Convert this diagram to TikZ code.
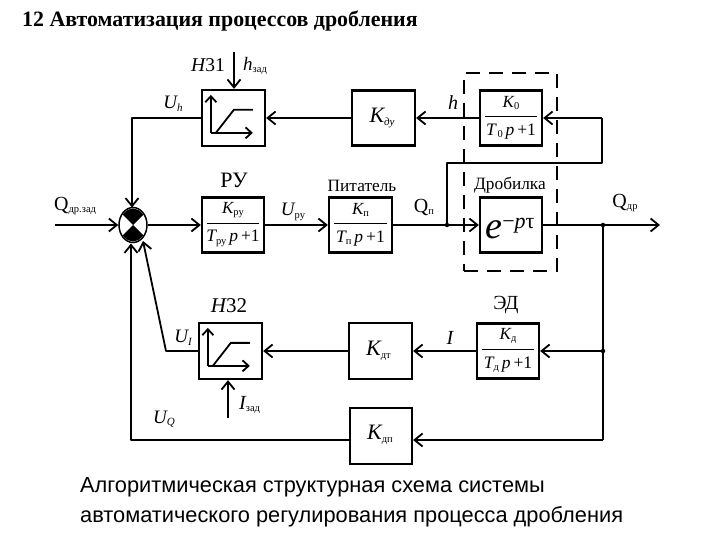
\documentclass[tikz,border=0pt]{standalone}
\usepackage{fontspec}
\setmainfont{Liberation Serif}
\newfontfamily\capfont{Liberation Sans}
\usetikzlibrary{arrows.meta,shapes.geometric}
\newcommand{\lo}[1]{\raisebox{-2.5pt}{\fontsize{10.5}{11}\selectfont #1}}
\newcommand{\ilo}[1]{\raisebox{-2.5pt}{\fontsize{11}{11}\selectfont\itshape #1}}
\newcommand{\I}[1]{{\itshape #1}}
\newcommand{\bQ}{{\fontsize{20}{20}\selectfont Q}}
\newcommand{\bU}{{\fontsize{19}{20}\selectfont\itshape U}}
\tikzset{
  x=1pt,y=-1pt,
  wire/.style={line width=1.8pt,line join=round},
  arr/.style={wire,-{Straight Barb[length=8pt,width=13pt,line width=1.8pt]}},
  block/.style={draw,line width=2.3pt,rectangle,inner sep=0pt},
  txt/.style={inner sep=0pt,font=\fontsize{17}{18}\selectfont},
  small/.style={inner sep=0pt,font=\fontsize{17.3}{18}\selectfont},
  fracn/.style={inner sep=0pt,font=\fontsize{17}{18}\selectfont},
  fracd/.style={inner sep=0pt,font=\fontsize{17.5}{18}\selectfont},
  big/.style={inner sep=0pt,font=\fontsize{22}{24}\selectfont},
  dot/.style={circle,fill,inner sep=0pt,minimum size=4.5pt},
  sat/.style={line width=1.8pt},
}
\newcommand{\blk}[5]{\node[block,minimum width=#4pt,minimum height=#5pt] (#1) at (#2,#3) {};}
\newcommand{\tfun}[3]{%
  \node[fracn] (#1n) at ([yshift=15pt]#1.center) {#2};
  \node[fracd] (#1d) at ([yshift=-13.5pt]#1.center) {#3};
  \draw[line width=.7pt] ([xshift=6pt,yshift=2pt]#1.west) -- ([xshift=-6pt,yshift=2pt]#1.east);}
\newcommand{\satur}[1]{%
  \draw[sat,-{Straight Barb[length=6pt,width=11pt,line width=1.8pt]}] ([xshift=10pt,yshift=-44pt]#1.north west) -- ++(0,38pt);
  \draw[sat,-{Straight Barb[length=6pt,width=11pt,line width=1.8pt]}] ([xshift=10pt,yshift=-44pt]#1.north west) -- ++(42pt,0);
  \draw[sat] ([xshift=15pt,yshift=-44pt]#1.north west) -- ++(18pt,23pt) -- ++(19pt,0);}
\begin{document}
\begin{tikzpicture}
\useasboundingbox (0,0) rectangle (720,540);
\fill[white] (0,0) rectangle (720,540);
% title
\node[anchor=west,inner sep=0pt,font=\fontsize{21.9}{24}\selectfont\bfseries] (title) at (22,21) {12 Автоматизация процессов дробления};
% blocks
\blk{nza}{233.5}{118}{63}{56}
\blk{ru}{233}{225}{62}{55}
\blk{pit}{360.5}{225}{63}{55}
\blk{kdu}{383.5}{118}{63}{55}
\blk{ko}{511}{118}{62}{55}
\blk{dro}{511}{225}{62}{55}
\blk{nzb}{230.5}{351}{63}{56}
\blk{kdt}{380.5}{351}{63}{56}
\blk{kdp}{381}{436}{62}{56}
\blk{ed}{508}{351}{62}{55}
% dashed frame
\node[draw,line width=2.4pt,dash pattern=on 14pt off 9pt,minimum width=93pt,minimum height=198pt,inner sep=0pt] (frame) at (510.5,172) {};
% summing junction
\node[draw,line width=1.5pt,ellipse,fill=white,minimum width=28pt,minimum height=35pt,inner sep=0pt] (sum) at (133,225) {};
\begin{scope}
\clip (133,225) ellipse [x radius=13pt,y radius=16.5pt];
\fill (133,225) -- (113,205) -- (153,205) -- cycle;
\fill (133,225) -- (113,245) -- (153,245) -- cycle;
\end{scope}
% coordinates
\coordinate (qin) at (55,225);
\coordinate (qout) at (660,225);
\node[dot] (jout) at (603,225) {};
\node[dot] (jed) at (603,351) {};
\node[dot] (jq) at (447,225) {};
\coordinate (fbr) at (602,118);
\coordinate (fbd) at (602,163);
\coordinate (fbl) at (447,163);
\coordinate (hz) at (234,52);
\coordinate (iz) at (228,418);
\coordinate (uh) at (132,118);
\coordinate (ui) at (166,351);
\coordinate (uq) at (131,440);
\coordinate (dp) at (603,440);
\coordinate (sumt) at (132,207.5);
\coordinate (sumb) at (131,243.5);
\coordinate (sumr) at (143,241);
% connectors
\draw[arr] (qin) -- (sum.west);
\draw[arr] (sum.east) -- (ru.west);
\draw[arr] (ru.east) -- (pit.west);
\draw[arr] (pit.east) -- (dro.west);
\draw[arr] (dro.east) -- (qout);
\draw[wire] (jq.center) -- (fbl) -- (fbd) -- (fbr);
\draw[arr] (fbr) -- (ko.east);
\draw[arr] (ko.west) -- (kdu.east);
\draw[arr] (kdu.west) -- (nza.east);
\draw[arr] (nza.west) -- (uh) -- (sumt);
\draw[arr] (hz) -- (nza.north -| hz);
\draw[wire] (jout.center) -- (dp);
\draw[arr] (jed.center) -- (ed.east);
\draw[arr] (ed.west) -- (kdt.east);
\draw[arr] (kdt.west) -- (nzb.east);
\draw[arr] (nzb.west) -- (ui) -- (sumr);
\draw[arr] (iz) -- (nzb.south -| iz);
\draw[arr] (dp) -- (kdp.east |- dp);
\draw[arr] (kdp.west |- uq) -- (uq) -- (sumb);
% saturation glyphs
\satur{nza}
\satur{nzb}
% block texts
\tfun{ru}{\I{K}\lo{ру}}{\I{T}\lo{ру}\,\I{p}\,+1}
\tfun{pit}{\I{K}\lo{п}}{\I{T}\lo{п}\,\I{p}\,+1}
\tfun{ko}{\I{K}\lo{0}}{\I{T}\lo{\,0}\,\I{p}\,+1}
\tfun{ed}{\I{K}\lo{д}}{\I{T}\lo{д}\,\I{p}\,+1}
\node[big] (kdul) at (382,118) {\I{K}\ilo{ду}};
\node[big] (kdtl) at (378.5,351) {\I{K}\lo{дт}};
\node[big] (kdpl) at (380,435) {\I{K}\lo{дп}};
\node[inner sep=0pt,font=\fontsize{38}{40}\selectfont] (exp) at (510,229) {\I{e}\raisebox{10pt}{\fontsize{22}{22}\selectfont −\I{p}τ}};
% labels
\node[txt,font=\fontsize{19.5}{22}\selectfont] (lnza) at (208,65) {\I{Н}31};
\node[txt,anchor=west,font=\fontsize{19}{20}\selectfont] (lhz) at (243,66) {\I{h}\lo{зад}};
\node[txt] (luh) at (173,104) {\bU\ilo{h}};
\node[big] (lru) at (234,180) {РУ};
\node[txt,anchor=west] (lqz) at (54,206) {\bQ\lo{др.зад}};
\node[txt] (lup) at (293,212) {\bU\lo{ру}};
\node[small] (lpit) at (362,186) {Питатель};
\node[txt] (lqp) at (424,207) {\bQ\lo{п}};
\node[small] (ldro) at (510,185) {Дробилка};
\node[txt] (lqd) at (625,203) {\bQ\lo{др}};
\node[txt,font=\fontsize{20}{22}\selectfont] (lh) at (453,103) {\I{h}};
\node[txt,font=\fontsize{21}{22}\selectfont] (lnzb) at (229,306) {\I{Н}32};
\node[txt,font=\fontsize{20}{22}\selectfont] (led) at (506,305) {ЭД};
\node[txt] (lui) at (183,338) {\bU\ilo{I}};
\node[txt,font=\fontsize{20}{22}\selectfont] (li) at (450,338) {\I{I}};
\node[txt,anchor=west,font=\fontsize{20}{20}\selectfont] (liz) at (239,405) {\I{I}\lo{зад}};
\node[txt] (luq) at (164,419) {\bU\ilo{Q}};
% caption
\node[anchor=north west,inner sep=0pt,align=left,font=\capfont\fontsize{21.8}{30}\selectfont] (cap) at (80,477) {Алгоритмическая структурная схема системы\\автоматического регулирования процесса дробления};
\end{tikzpicture}
\end{document}
